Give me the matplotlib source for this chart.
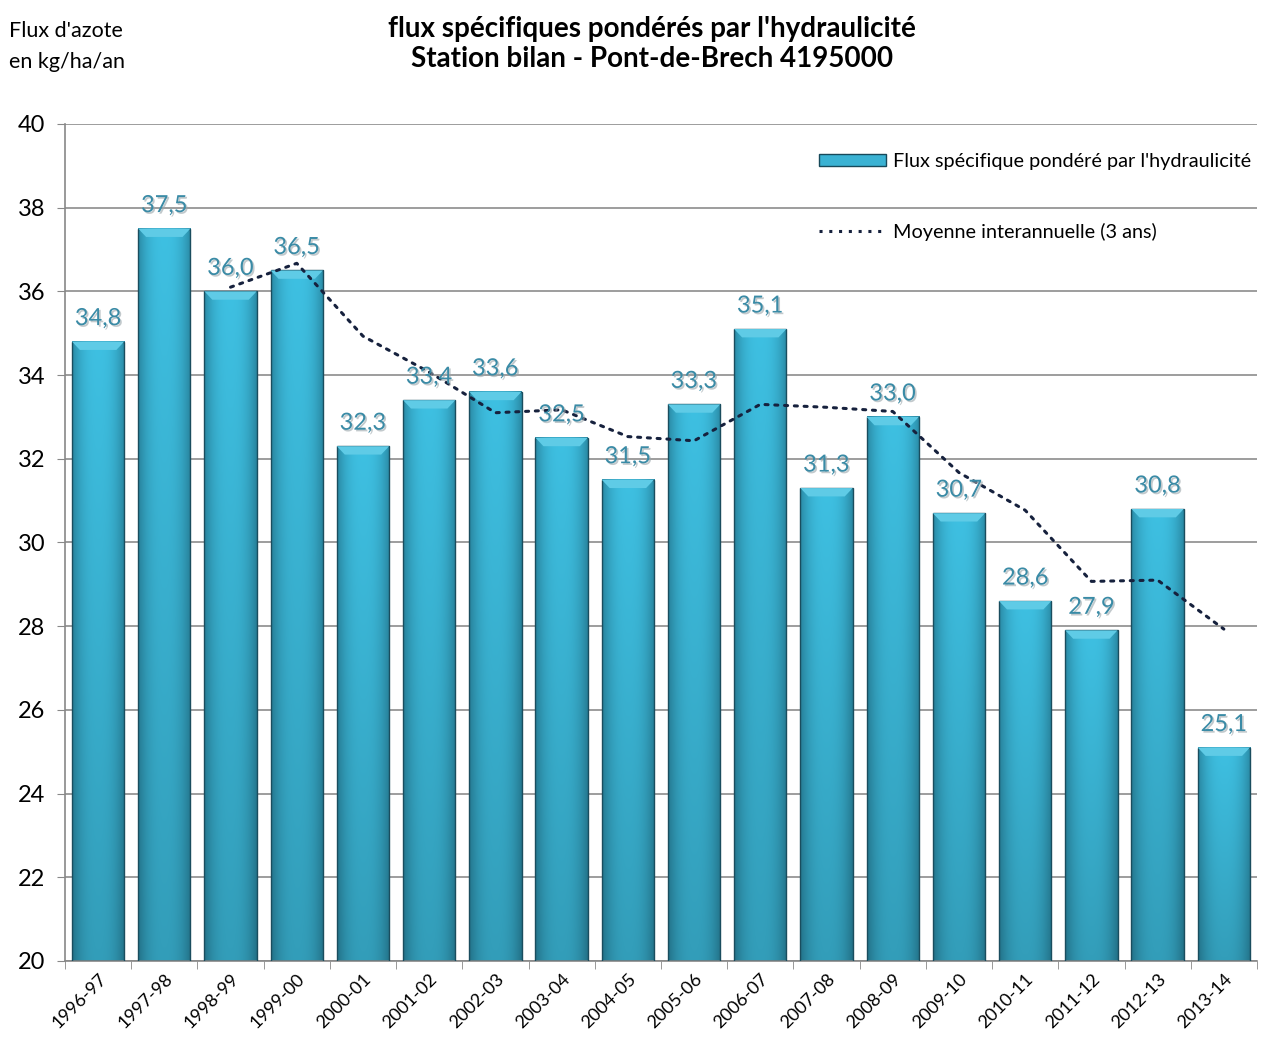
import numpy as np
import matplotlib
matplotlib.use("Agg")
import matplotlib.pyplot as plt
import matplotlib.patheffects as pe
from matplotlib.patches import Polygon, Rectangle
from matplotlib.lines import Line2D

plt.rcParams['font.family'] = ['Lato', 'DejaVu Sans']

# campagnes hydrologiques
saisons = ["1996-97", "1997-98", "1998-99", "1999-00", "2000-01", "2001-02",
           "2002-03", "2003-04", "2004-05", "2005-06", "2006-07", "2007-08",
           "2008-09", "2009-10", "2010-11", "2011-12", "2012-13", "2013-14"]

# flux spécifique pondéré (kg/ha/an)
flux = [34.8, 37.5, 36.0, 36.5, 32.3, 33.4, 33.6, 32.5, 31.5, 33.3,
        35.1, 31.3, 33.0, 30.7, 28.6, 27.9, 30.8, 25.1]

# moyenne interannuelle sur 3 ans (à partir de 1998-99)
moyenne_3ans = [36.1, 36.67, 34.93, 34.07, 33.1, 33.17, 32.53, 32.43,
                33.3, 33.23, 33.13, 31.67, 30.77, 29.07, 29.1, 27.93]

x = np.arange(len(saisons))
largeur = 0.79
y_min, y_max = 20, 40

fig = plt.figure(figsize=(12.62, 10.39), dpi=100)
ax = fig.add_axes([0.0515, 0.0751, 0.9445, 0.8056])

# dégradé des barres : clair au centre, foncé sur les bords et vers le bas
centre = np.array([62, 192, 226]) / 255
bord = np.array([42, 138, 165]) / 255
nx, ny = 60, 200
hx = 1 - np.abs(np.linspace(-1, 1, nx)) ** 2.5
vy = np.linspace(1.0, 0.82, ny)[:, None, None]
grad = (bord + (centre - bord) * hx[None, :, None]) * vy
grad = np.clip(grad, 0, 1)

for xi, v in zip(x, flux):
    x0, x1 = xi - largeur / 2, xi + largeur / 2
    ax.imshow(grad, extent=(x0, x1, y_min, v), aspect='auto',
              origin='upper', zorder=2, interpolation='bilinear')
    ax.add_patch(Rectangle((x0, y_min), largeur, v - y_min, fill=False,
                           edgecolor='#1a4d5e', linewidth=1.0, zorder=3))
    # biseau supérieur
    dx, dy = 0.12, 0.2
    ax.add_patch(Polygon([(x0, v), (x1, v), (x1 - dx, v - dy), (x0 + dx, v - dy)],
                         closed=True, facecolor='#5fcbe6', edgecolor='none',
                         zorder=3))
    ax.annotate(f"{v:.1f}".replace('.', ','), (xi, v), xytext=(0, 9),
                textcoords='offset points', ha='center', va='bottom',
                fontsize=17, color='#3a8ba6', zorder=5,
                path_effects=[pe.withSimplePatchShadow(offset=(1.2, -1.2),
                                                       shadow_rgbFace='#9aa6ab',
                                                       alpha=0.6)])

ax.plot(x[2:], moyenne_3ans, linestyle=(0, (1, 2.2)), dash_capstyle='round',
        color='#16213d', linewidth=2.2, zorder=4)

ax.set_xlim(-0.5, len(saisons) - 0.5)
ax.set_ylim(y_min, y_max)
ax.set_yticks(np.arange(20, 41, 2))
ax.tick_params(axis='y', labelsize=17, length=6, color='#888888', pad=8)
ax.yaxis.grid(True, color='#8c8c8c', linewidth=1.2, zorder=0)
ax.set_axisbelow(True)

ax.set_xticks(x)
ax.set_xticklabels(saisons, rotation=45, ha='right', rotation_mode='anchor',
                   fontsize=13)
ax.set_xticks(np.arange(-0.5, len(saisons)), minor=True)
ax.tick_params(axis='x', which='major', length=0, pad=7)
ax.tick_params(axis='x', which='minor', length=6, color='#888888')

for s in ['top', 'right']:
    ax.spines[s].set_visible(False)
for s in ['left', 'bottom']:
    ax.spines[s].set_color('#888888')
    ax.spines[s].set_linewidth(1.2)

fig.text(0.5165, 0.985, "flux spécifiques pondérés par l'hydraulicité\n"
         "Station bilan - Pont-de-Brech 4195000", ha='center', va='top',
         fontsize=20, fontweight='bold', linespacing=1.2)
fig.text(0.007, 0.98, "Flux d'azote\nen kg/ha/an", ha='left', va='top',
         fontsize=15.5, linespacing=1.7)

poignees = [Rectangle((0, 0), 1, 1, facecolor='#3ab2d3', edgecolor='#17495a'),
            Line2D([], [], linestyle=(0, (1, 2.2)), color='#16213d', linewidth=2.2)]
ax.legend(poignees, ["Flux spécifique pondéré par l'hydraulicité",
                     "Moyenne interannuelle (3 ans)"],
          loc='upper right', bbox_to_anchor=(1.002, 0.975), frameon=False,
          fontsize=14.3, handlelength=3.4, handleheight=0.55, labelspacing=2.65,
          handletextpad=0.35, borderaxespad=0)

fig.savefig("out.png", dpi=100)
